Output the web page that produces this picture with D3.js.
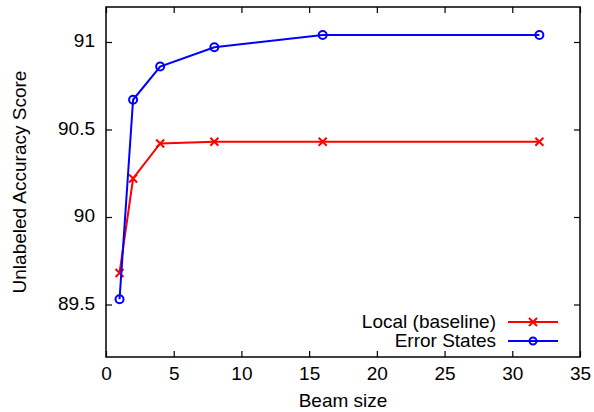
<!DOCTYPE html>
<html>
<head>
<meta charset="utf-8">
<script src="https://cdn.jsdelivr.net/npm/d3@7"></script>
<style>
  body { margin: 0; background: #fff; }
  text { font-family: "Liberation Sans", Arial, Helvetica, sans-serif; fill: #000; }
</style>
</head>
<body>
<div id="chart"></div>
<script>
const width = 594;
const height = 412;

// data
const beamSizes = [1, 2, 4, 8, 16, 32];
const localBaseline = [89.68, 90.22, 90.42, 90.43, 90.43, 90.43];
const errorStates = [89.53, 90.67, 90.86, 90.97, 91.04, 91.04];
const xTicks = [0, 5, 10, 15, 20, 25, 30, 35];
const yTicks = [89.5, 90, 90.5, 91];
const seriesNames = ["Local (baseline)", "Error States"];

const margin = { left: 106, right: 14, top: 7, bottom: 55 };
const fontSize = 19;

const svg = d3.select("#chart")
  .append("svg")
  .attr("width", width)
  .attr("height", height);

const x = d3.scaleLinear().domain([0, 35]).range([margin.left, width - margin.right]);
const y = d3.scaleLinear().domain([89.2, 91.2]).range([height - margin.bottom, margin.top]);

const tickLen = 6;

// bottom axis
svg.append("g")
  .attr("transform", `translate(0,${y.range()[0]})`)
  .call(d3.axisBottom(x).tickValues(xTicks).tickSizeInner(-tickLen).tickSizeOuter(0).tickPadding(10).tickFormat(d3.format("d")))
  .call(g => g.select(".domain").remove())
  .call(g => g.selectAll("line").attr("stroke-width", 1.2))
  .call(g => g.selectAll("text").attr("font-size", fontSize));

// top ticks (mirror)
svg.append("g")
  .attr("transform", `translate(0,${y.range()[1]})`)
  .call(d3.axisTop(x).tickValues(xTicks).tickSizeInner(-tickLen).tickSizeOuter(0).tickFormat(""))
  .call(g => g.select(".domain").remove())
  .call(g => g.selectAll("line").attr("stroke-width", 1.2));

// left axis
svg.append("g")
  .attr("transform", `translate(${x.range()[0]},0)`)
  .call(d3.axisLeft(y).tickValues(yTicks).tickSizeInner(-tickLen).tickSizeOuter(0).tickPadding(11).tickFormat(d => d))
  .call(g => g.select(".domain").remove())
  .call(g => g.selectAll("line").attr("stroke-width", 1.2))
  .call(g => g.selectAll("text").attr("font-size", fontSize).attr("dy", "0.25em"));

// right ticks (mirror)
svg.append("g")
  .attr("transform", `translate(${x.range()[1]},0)`)
  .call(d3.axisRight(y).tickValues(yTicks).tickSizeInner(-tickLen).tickSizeOuter(0).tickFormat(""))
  .call(g => g.select(".domain").remove())
  .call(g => g.selectAll("line").attr("stroke-width", 1.2));

// frame
svg.append("rect")
  .attr("x", x.range()[0])
  .attr("y", y.range()[1])
  .attr("width", x.range()[1] - x.range()[0])
  .attr("height", y.range()[0] - y.range()[1])
  .attr("fill", "none")
  .attr("stroke", "#000")
  .attr("stroke-width", 1.5);

// axis titles
svg.append("text")
  .attr("x", (x.range()[0] + x.range()[1]) / 2)
  .attr("y", 407)
  .attr("text-anchor", "middle")
  .attr("font-size", fontSize)
  .text("Beam size");

svg.append("text")
  .attr("transform", `translate(26,${(y.range()[0] + y.range()[1]) / 2}) rotate(-90)`)
  .attr("text-anchor", "middle")
  .attr("font-size", fontSize)
  .text("Unlabeled Accuracy Score");

const line = d3.line().x(d => x(d[0])).y(d => y(d[1]));

function drawCross(g, cx, cy, r, color) {
  g.append("path")
    .attr("d", `M${cx - r},${cy - r}L${cx + r},${cy + r}M${cx - r},${cy + r}L${cx + r},${cy - r}`)
    .attr("stroke", color)
    .attr("stroke-width", 2)
    .attr("fill", "none");
}

function drawCircle(g, cx, cy, r, color) {
  g.append("circle")
    .attr("cx", cx).attr("cy", cy).attr("r", r)
    .attr("fill", "none")
    .attr("stroke", color)
    .attr("stroke-width", 2);
}

const series = [
  { name: seriesNames[0], values: localBaseline, color: "#ff0000", marker: drawCross },
  { name: seriesNames[1], values: errorStates, color: "#0000ff", marker: drawCircle }
];

series.forEach(s => {
  const pts = beamSizes.map((b, i) => [b, s.values[i]]);
  const g = svg.append("g");
  g.append("path")
    .attr("d", line(pts))
    .attr("fill", "none")
    .attr("stroke", s.color)
    .attr("stroke-width", 2);
  pts.forEach(p => s.marker(g, x(p[0]), y(p[1]), 4, s.color));
});

// legend
series.forEach((s, i) => {
  const ly = 322 + i * 19;
  const g = svg.append("g");
  g.append("text")
    .attr("x", 496)
    .attr("y", ly)
    .attr("dy", "0.3em")
    .attr("text-anchor", "end")
    .attr("font-size", fontSize)
    .text(s.name);
  g.append("line")
    .attr("x1", 508).attr("x2", 558)
    .attr("y1", ly).attr("y2", ly)
    .attr("stroke", s.color)
    .attr("stroke-width", 2);
  s.marker(g, 533, ly, i === 0 ? 4 : 3.5, s.color);
});
</script>
</body>
</html>
